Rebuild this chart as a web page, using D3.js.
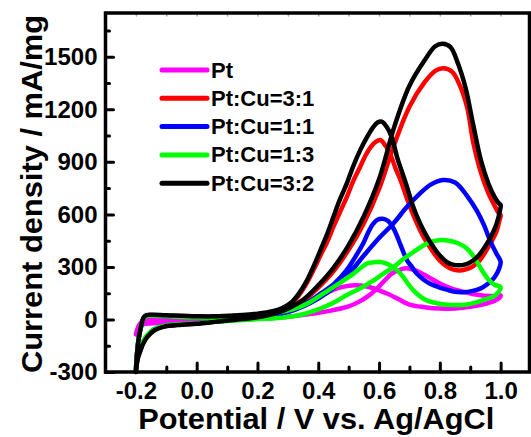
<!DOCTYPE html>
<html>
<head>
<meta charset="utf-8">
<script src="https://d3js.org/d3.v7.min.js"></script>
<style>
  body { margin: 0; background: #fff; }
  text { font-family: "Liberation Sans", Arial, sans-serif; font-weight: bold; fill: #000; }
</style>
</head>
<body>
<div id="chart"></div>
<script>
// series: [potential (V), current density (mA/mg)], forward scan then backward scan
var seriesNames = ['Pt', 'Pt:Cu=3:1', 'Pt:Cu=1:1', 'Pt:Cu=1:3', 'Pt:Cu=3:2']
var seriesColors = ['#ff00ff', '#ff0000', '#0000ff', '#00ff00', '#000000']

var pt = [
  [-0.2,-85],[-0.195,-55],[-0.185,-35],[-0.17,-25],[-0.13,-20],[-0.05,-15],[0.05,-8],[0.15,0],[0.25,8],
  [0.335,23],[0.4,38],[0.445,52],[0.5,75],[0.532,99],[0.565,135],[0.598,185],[0.642,262],[0.67,285],
  [0.69,292],[0.72,280],[0.752,252],[0.8,205],[0.839,176],[0.88,157],[0.927,140],[0.965,134],[0.993,137],[1.0,137],
  [0.99,115],[0.97,100],[0.94,85],[0.9,72],[0.85,63],[0.8,62],[0.75,70],[0.7,85],[0.665,115],[0.63,145],
  [0.598,168],[0.56,188],[0.52,195],[0.48,186],[0.45,170],[0.423,147],[0.38,112],[0.335,80],[0.28,45],
  [0.226,15],[0.15,5],[0.05,1],[-0.05,-1],[-0.12,-2],[-0.16,-4],[-0.18,-12],[-0.192,-40],[-0.2,-85]
]

var ptcu31 = [
  [-0.2,-300],[-0.194,-220],[-0.185,-172],[-0.175,-130],[-0.163,-97],[-0.14,-60],[-0.11,-40],[-0.05,-28],
  [0,-23],[0.07,-11],[0.15,2],[0.2,11],[0.25,28],[0.3,58],[0.35,105],[0.4,182],[0.45,275],[0.5,398],
  [0.55,550],[0.6,745],[0.65,1000],[0.7,1215],[0.75,1355],[0.785,1420],[0.812,1435],[0.84,1415],[0.865,1340],
  [0.89,1210],[0.91,1010],[0.935,840],[0.96,720],[0.98,650],[0.993,610],[1.0,595],
  [0.996,565],[0.987,505],[0.97,445],[0.955,400],[0.93,335],[0.91,305],[0.888,287],[0.867,280],[0.845,285],
  [0.825,300],[0.8,335],[0.78,380],[0.757,440],[0.735,510],[0.712,600],[0.69,700],[0.672,790],[0.655,860],
  [0.64,930],[0.622,990],[0.604,1025],[0.59,1015],[0.575,990],[0.555,935],[0.538,872],[0.515,790],[0.494,700],
  [0.472,615],[0.45,530],[0.43,445],[0.407,365],[0.385,285],[0.363,210],[0.335,135],[0.308,85],[0.28,58],
  [0.25,42],[0.2,30],[0.15,22],[0.07,16],[0,16],[-0.1,22],[-0.15,25],[-0.165,23],[-0.174,11],[-0.183,-40],
  [-0.19,-100],[-0.196,-190],[-0.2,-300]
]

var ptcu11 = [
  [-0.2,-290],[-0.194,-215],[-0.185,-170],[-0.175,-125],[-0.163,-92],[-0.14,-56],[-0.11,-38],[-0.05,-27],
  [0,-22],[0.07,-10],[0.15,3],[0.2,12],[0.25,25],[0.3,42],[0.35,75],[0.4,120],[0.45,180],[0.5,260],[0.55,365],
  [0.6,465],[0.647,548],[0.692,643],[0.735,720],[0.77,770],[0.81,796],[0.85,782],[0.89,705],[0.922,620],
  [0.945,540],[0.965,452],[0.985,380],[1.0,330],
  [0.995,290],[0.985,255],[0.976,233],[0.955,200],[0.933,176],[0.905,162],[0.878,156],[0.85,158],[0.823,170],
  [0.795,185],[0.768,204],[0.745,230],[0.724,262],[0.708,300],[0.692,338],[0.68,385],[0.669,433],[0.657,485],
  [0.645,528],[0.63,562],[0.612,575],[0.595,570],[0.58,545],[0.565,500],[0.549,438],[0.52,352],
  [0.494,283],[0.45,200],[0.407,147],[0.36,92],[0.319,55],[0.275,32],[0.24,26],[0.2,22],[0.15,18],[0.07,14],
  [0,14],[-0.1,20],[-0.15,23],[-0.165,21],[-0.174,9],[-0.183,-40],[-0.19,-100],[-0.196,-190],[-0.2,-290]
]

var ptcu13 = [
  [-0.2,-285],[-0.194,-210],[-0.185,-165],[-0.175,-122],[-0.163,-90],[-0.14,-55],[-0.11,-37],[-0.05,-26],
  [0,-21],[0.07,-12],[0.15,-3],[0.2,2],[0.25,6],[0.3,14],[0.35,30],[0.407,62],[0.45,95],[0.494,140],[0.54,180],
  [0.582,223],[0.615,262],[0.647,299],[0.68,345],[0.713,385],[0.757,433],[0.795,452],[0.83,450],[0.86,435],
  [0.889,405],[0.915,350],[0.94,277],[0.96,228],[0.98,198],[1.0,185],
  [0.99,150],[0.975,130],[0.955,118],[0.92,98],[0.889,86],[0.855,82],[0.823,84],[0.79,93],[0.757,109],
  [0.735,132],[0.713,166],[0.695,205],[0.68,242],[0.66,280],[0.637,309],[0.62,322],[0.604,328],[0.58,326],
  [0.56,319],[0.54,295],[0.516,262],[0.485,225],[0.45,185],[0.41,140],[0.363,90],[0.32,60],[0.275,42],
  [0.24,32],[0.2,22],[0.15,16],[0.07,12],[0,12],[-0.1,18],[-0.15,21],[-0.165,19],[-0.174,7],[-0.183,-40],
  [-0.19,-100],[-0.196,-185],[-0.2,-285]
]

var ptcu32 = [
  [-0.2,-300],[-0.194,-225],[-0.185,-178],[-0.175,-135],[-0.163,-101],[-0.14,-63],[-0.11,-42],[-0.05,-30],
  [0,-25],[0.07,-12],[0.15,2],[0.2,12],[0.25,30],[0.3,62],[0.35,112],[0.4,195],[0.45,295],[0.5,425],[0.55,590],
  [0.6,800],[0.65,1100],[0.7,1335],[0.75,1480],[0.785,1560],[0.81,1574],[0.835,1555],[0.86,1460],[0.885,1320],
  [0.91,1110],[0.935,910],[0.96,775],[0.98,700],[0.993,665],[1.0,653],
  [0.998,624],[0.987,548],[0.97,480],[0.955,433],[0.93,370],[0.911,338],[0.885,315],[0.861,309],[0.84,315],
  [0.823,328],[0.8,365],[0.779,414],[0.757,475],[0.735,548],[0.712,645],[0.692,757],[0.675,845],[0.659,929],
  [0.642,1040],[0.625,1100],[0.609,1130],[0.595,1125],[0.582,1101],[0.56,1040],[0.538,967],[0.515,875],
  [0.494,777],[0.47,680],[0.45,586],[0.43,490],[0.407,395],[0.385,305],[0.363,223],[0.335,145],[0.308,92],
  [0.28,64],[0.25,47],[0.2,33],[0.15,25],[0.07,18],[0,18],[-0.1,24],[-0.15,27],[-0.165,25],[-0.174,13],
  [-0.183,-40],[-0.19,-101],[-0.196,-190],[-0.2,-300]
]

var xMajor = [-0.2, 0.0, 0.2, 0.4, 0.6, 0.8, 1.0]
var xMinor = [-0.1, 0.1, 0.3, 0.5, 0.7, 0.9]
var yMajor = [-300, 0, 300, 600, 900, 1200, 1500]
var yMinor = [-150, 150, 450, 750, 1050, 1350, 1650]

var allSeries = [pt, ptcu31, ptcu11, ptcu13, ptcu32]

var width = 531
var height = 437
var plotL = 105.5, plotR = 529.5, plotT = 13, plotB = 372

var svg = d3.select('#chart').append('svg')
  .attr('width', width)
  .attr('height', height)

var x = d3.scaleLinear().domain([-0.3, 1.095]).range([plotL, plotR])
var y = d3.scaleLinear().domain([-300, 1750]).range([plotB, plotT])

var line = d3.line()
  .x(d => x(d[0]))
  .y(d => y(d[1]))
  .curve(d3.curveCatmullRom.alpha(0.5))

svg.append('g').selectAll('path')
  .data(allSeries)
  .enter()
  .append('path')
  .attr('d', line)
  .attr('fill', 'none')
  .attr('stroke', (d, i) => seriesColors[i])
  .attr('stroke-width', 4.5)
  .attr('stroke-linejoin', 'round')
  .attr('stroke-linecap', 'round')

// axes, ticks pointing inward
svg.append('g').attr('transform', 'translate(0,' + plotB + ')')
  .call(d3.axisBottom(x).tickValues(xMajor).tickSizeInner(-9).tickSizeOuter(0).tickPadding(10)
    .tickFormat(d => d.toFixed(1)))
svg.append('g').attr('transform', 'translate(0,' + plotB + ')')
  .call(d3.axisBottom(x).tickValues(xMinor).tickSizeInner(-5).tickSizeOuter(0).tickFormat(''))
svg.append('g').attr('transform', 'translate(' + plotL + ',0)')
  .call(d3.axisLeft(y).tickValues(yMajor).tickSizeInner(-8).tickSizeOuter(0).tickPadding(8)
    .tickFormat(d => String(d)))
svg.append('g').attr('transform', 'translate(' + plotL + ',0)')
  .call(d3.axisLeft(y).tickValues(yMinor).tickSizeInner(-4).tickSizeOuter(0).tickFormat(''))
// faint ticks on the top edge
svg.append('g').attr('class', 'topaxis').attr('transform', 'translate(0,' + plotT + ')')
  .call(d3.axisTop(x).tickValues(xMajor.concat(xMinor)).tickSizeInner(-3).tickSizeOuter(0).tickFormat(''))

svg.selectAll('.domain').remove()
svg.selectAll('.tick line').attr('stroke-width', 3).attr('stroke-linecap', 'round')
svg.selectAll('.topaxis .tick line').attr('stroke', '#aaa').attr('stroke-width', 1.5)
svg.selectAll('.tick text').style('font-size', '24px')
  .style('font-family', '"Liberation Sans", Arial, sans-serif').style('font-weight', 'bold')

svg.append('rect')
  .attr('x', plotL).attr('y', plotT)
  .attr('width', plotR - plotL).attr('height', plotB - plotT)
  .attr('fill', 'none').attr('stroke', '#000').attr('stroke-width', 3.5)

// axis titles
svg.append('text')
  .attr('x', (137.5 + 495) / 2).attr('y', 429)
  .attr('text-anchor', 'middle')
  .style('font-size', '29px')
  .attr('textLength', 356)
  .attr('lengthAdjust', 'spacingAndGlyphs')
  .text('Potential / V vs. Ag/AgCl')

svg.append('text')
  .attr('transform', 'translate(42,194) rotate(-90)')
  .attr('text-anchor', 'middle')
  .style('font-size', '30px')
  .attr('textLength', 358)
  .attr('lengthAdjust', 'spacingAndGlyphs')
  .text('Current density / mA/mg')

// legend
var legend = svg.append('g').selectAll('g')
  .data(seriesNames)
  .enter()
  .append('g')
  .attr('transform', (d, i) => 'translate(162,' + (70 + i * 28.3) + ')')
legend.append('line')
  .attr('x1', 0).attr('x2', 45)
  .attr('stroke', (d, i) => seriesColors[i])
  .attr('stroke-width', 5)
  .attr('stroke-linecap', 'round')
legend.append('text')
  .attr('x', 49).attr('y', 7.5)
  .style('font-size', '22px')
  .text(d => d)
</script>
</body>
</html>
